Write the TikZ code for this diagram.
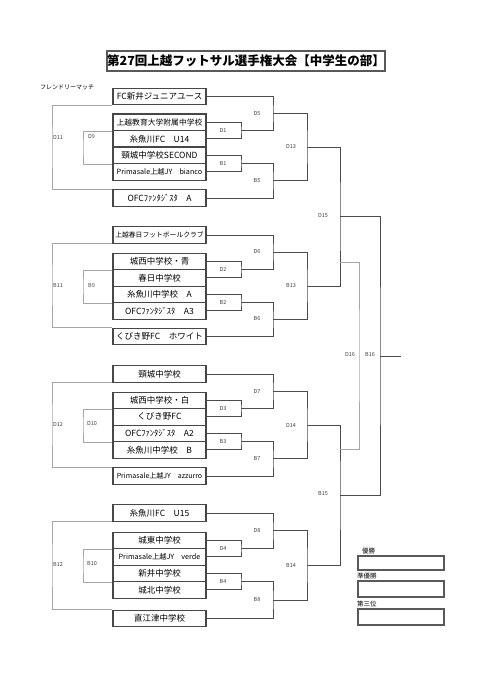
\documentclass[tikz,border=0pt]{standalone}
\usepackage{fontspec}
\setmainfont{Noto Sans CJK JP}
\begin{document}
\begin{tikzpicture}[x=1pt,y=-1pt,
    team/.style={draw=black!72,line width=1.1pt,fill=white,minimum width=93pt,
      minimum height=16.5pt,inner sep=0pt,font=\fontsize{8.5}{9}\selectfont},
    res/.style={draw=black!65,line width=2pt,minimum width=86pt,inner sep=0pt},
    br/.style={draw=black!70,line width=0.8pt},
    gbr/.style={draw=black!35,line width=0.8pt},
    tag/.style={font=\fontsize{5.5}{6}\selectfont,text=black!75,inner sep=0pt},
    rlab/.style={font=\fontsize{6.5}{7}\selectfont,inner sep=0pt}]
  \useasboundingbox (0,0) rectangle (480,679);
  \node[draw=black!65,line width=2pt,minimum width=266pt,minimum height=20pt,inner sep=0pt,
    font=\bfseries\fontsize{12.5}{13}\selectfont] (title) at (246,61)
    {第27回上越フットサル選手権大会【中学生の部】};
  \node[font=\fontsize{6}{6}\selectfont,inner sep=0pt] (fm) at (67,87) {フレンドリーマッチ};
  % teams
  \node[team] (t1) at (159.5,96.5) {FC新井ジュニアユース};
  \node[team,font=\fontsize{7.8}{8}\selectfont] (t2) at (159.5,122.3) {上越教育大学附属中学校};
  \node[team] (t3) at (159.5,138.8) {糸魚川FC　U14};
  \node[team] (t4) at (159.5,155.3) {頸城中学校SECOND};
  \node[team,font=\fontsize{7.2}{7.5}\selectfont] (t5) at (159.5,171.8) {Primasale上越JY　bianco};
  \node[team] (t6) at (159.5,198) {OFCﾌｧﾝﾀｼﾞｽﾀ　A};
  \node[team,font=\fontsize{6.8}{7}\selectfont] (t7) at (159.5,235) {上越春日フットボールクラブ};
  \node[team] (t8) at (159.5,261.3) {城西中学校・青};
  \node[team] (t9) at (159.5,277.8) {春日中学校};
  \node[team] (t10) at (159.5,294.3) {糸魚川中学校　A};
  \node[team] (t11) at (159.5,310.8) {OFCﾌｧﾝﾀｼﾞｽﾀ　A3};
  \node[team] (t12) at (159.5,336.5) {くびき野FC　ホワイト};
  \node[team] (t13) at (159.5,374) {頸城中学校};
  \node[team] (t14) at (159.5,400.3) {城西中学校・白};
  \node[team] (t15) at (159.5,416.8) {くびき野FC};
  \node[team] (t16) at (159.5,433.3) {OFCﾌｧﾝﾀｼﾞｽﾀ　A2};
  \node[team] (t17) at (159.5,449.8) {糸魚川中学校　B};
  \node[team,font=\fontsize{7}{7.5}\selectfont] (t18) at (159.5,476) {Primasale上越JY　azzurro};
  \node[team] (t19) at (159.5,513) {糸魚川FC　U15};
  \node[team] (t20) at (159.5,540.3) {城東中学校};
  \node[team,font=\fontsize{7.2}{7.5}\selectfont] (t21) at (159.5,556.8) {Primasale上越JY　verde};
  \node[team] (t22) at (159.5,573.3) {新井中学校};
  \node[team] (t23) at (159.5,589.8) {城北中学校};
  \node[team] (t24) at (159.5,618.5) {直江津中学校};
  % friendly brackets
  \coordinate (d11) at (52,147);
  \coordinate (d9) at (83,147);
  \draw[gbr] (t1.south west) -| (d11) |- (t6.north west);
  \draw[gbr] (t2.south west) -| (d9) |- (t4.south west);
  \node[tag] (ld11) at (58,137) {D11};
  \node[tag] (ld9) at (91.5,137) {D9};
  \coordinate (b11) at (52,285.5);
  \coordinate (b9) at (83,285.5);
  \draw[gbr] (t7.south west) -| (b11) |- (t12.north west);
  \draw[gbr] (t8.south west) -| (b9) |- (t10.south west);
  \node[tag] (lb11) at (58,285.5) {B11};
  \node[tag] (lb9) at (91.5,285.5) {B9};
  \coordinate (d12) at (52,425);
  \coordinate (d10) at (83,425);
  \draw[gbr] (t13.south west) -| (d12) |- (t18.north west);
  \draw[gbr] (t14.south west) -| (d10) |- (t16.south west);
  \node[tag] (ld12) at (58,424) {D12};
  \node[tag] (ld10) at (92,424) {D10};
  \coordinate (b12) at (52,565);
  \coordinate (b10) at (83,565);
  \draw[gbr] (t19.south west) -| (b12) |- (t24.north west);
  \draw[gbr] (t20.south west) -| (b10) |- (t22.south west);
  \node[tag] (lb12) at (58,564) {B12};
  \node[tag] (lb10) at (92,564) {B10};
  % first round
  \coordinate (d1) at (241,130.5);
  \coordinate (b1) at (241,163.5);
  \coordinate (d2) at (241,269.5);
  \coordinate (b2) at (241,302.5);
  \coordinate (d3) at (241,408.5);
  \coordinate (b3) at (241,441.5);
  \coordinate (d4) at (241,548.5);
  \coordinate (b4) at (241,581.5);
  \draw[br] (t2.east) -| (d1) |- (t3.east);
  \draw[br] (t4.east) -| (b1) |- (t5.east);
  \draw[br] (t8.east) -| (d2) |- (t9.east);
  \draw[br] (t10.east) -| (b2) |- (t11.east);
  \draw[br] (t14.east) -| (d3) |- (t15.east);
  \draw[br] (t16.east) -| (b3) |- (t17.east);
  \draw[br] (t20.east) -| (d4) |- (t21.east);
  \draw[br] (t22.east) -| (b4) |- (t23.east);
  \node[tag] (ld1) at (223,130.5) {D1};
  \node[tag] (lb1) at (223,163.5) {B1};
  \node[tag] (ld2) at (223,269.5) {D2};
  \node[tag] (lb2) at (223,302.5) {B2};
  \node[tag] (ld3) at (223,408.5) {D3};
  \node[tag] (lb3) at (223,441.5) {B3};
  \node[tag] (ld4) at (223,548.5) {D4};
  \node[tag] (lb4) at (223,581.5) {B4};
  % second round
  \coordinate (d5) at (273,113.5);
  \coordinate (b5) at (273,180.8);
  \coordinate (d6) at (273,252.3);
  \coordinate (b6) at (273,319.5);
  \coordinate (d7) at (273,391.3);
  \coordinate (b7) at (273,458.8);
  \coordinate (d8) at (273,530.8);
  \coordinate (b8) at (273,600);
  \draw[br] (t1.east) -| (d5) |- (d1);
  \draw[br] (b1) -| (b5) |- (t6.east);
  \draw[br] (t7.east) -| (d6) |- (d2);
  \draw[br] (b2) -| (b6) |- (t12.east);
  \draw[br] (t13.east) -| (d7) |- (d3);
  \draw[br] (b3) -| (b7) |- (t18.east);
  \draw[br] (t19.east) -| (d8) |- (d4);
  \draw[br] (b4) -| (b8) |- (t24.east);
  \node[tag] (ld5) at (257,113.5) {D5};
  \node[tag] (lb5) at (257,180.5) {B5};
  \node[tag] (ld6) at (257,252) {D6};
  \node[tag] (lb6) at (257,319) {B6};
  \node[tag] (ld7) at (257,391) {D7};
  \node[tag] (lb7) at (257,458.5) {B7};
  \node[tag] (ld8) at (257,530.5) {D8};
  \node[tag] (lb8) at (257,599.5) {B8};
  % third round
  \coordinate (d13) at (307,147.1);
  \coordinate (b13) at (307,285.9);
  \coordinate (d14) at (307,425);
  \coordinate (b14) at (307,565.4);
  \draw[br] (d5) -| (d13) |- (b5);
  \draw[br] (d6) -| (b13) |- (b6);
  \draw[br] (d7) -| (d14) |- (b7);
  \draw[br] (d8) -| (b14) |- (b8);
  \node[tag] (ld13) at (291,147) {D13};
  \node[tag] (lb13) at (291,286) {B13};
  \node[tag] (ld14) at (291,425) {D14};
  \node[tag] (lb14) at (291,565) {B14};
  % semi-finals and final
  \coordinate (d15) at (340,216.5);
  \coordinate (b15) at (340,495.2);
  \draw[br] (d13) -| (d15) |- (b13);
  \draw[br] (d14) -| (b15) |- (b14);
  \node[tag] (ld15) at (323,216) {D15};
  \node[tag] (lb15) at (323,494) {B15};
  \coordinate (d16a) at (340,262);
  \coordinate (d16) at (359,355.9);
  \coordinate (d16b) at (340,449);
  \draw[gbr] (d16a) -| (d16) |- (d16b);
  \coordinate (b16) at (380,355.9);
  \coordinate (fin) at (401,355.9);
  \draw[br] (d15) -| (b16) |- (b15);
  \draw[br] (b16) -- (fin);
  \node[tag] (ld16) at (350,355) {D16};
  \node[tag] (lb16) at (370,355) {B16};
  % results
  \node[res,minimum height=14pt] (r1) at (401,563) {};
  \node[res,minimum height=16pt] (r2) at (401,589) {};
  \node[res,minimum height=16pt] (r3) at (401,617) {};
  \node[rlab,anchor=south west] (lr1) at ([xshift=5pt,yshift=1pt]r1.north west) {優勝};
  \node[rlab,anchor=south west] (lr2) at ([yshift=1pt]r2.north west) {準優勝};
  \node[rlab,anchor=south west] (lr3) at ([yshift=1pt]r3.north west) {第三位};
\end{tikzpicture}
\end{document}
